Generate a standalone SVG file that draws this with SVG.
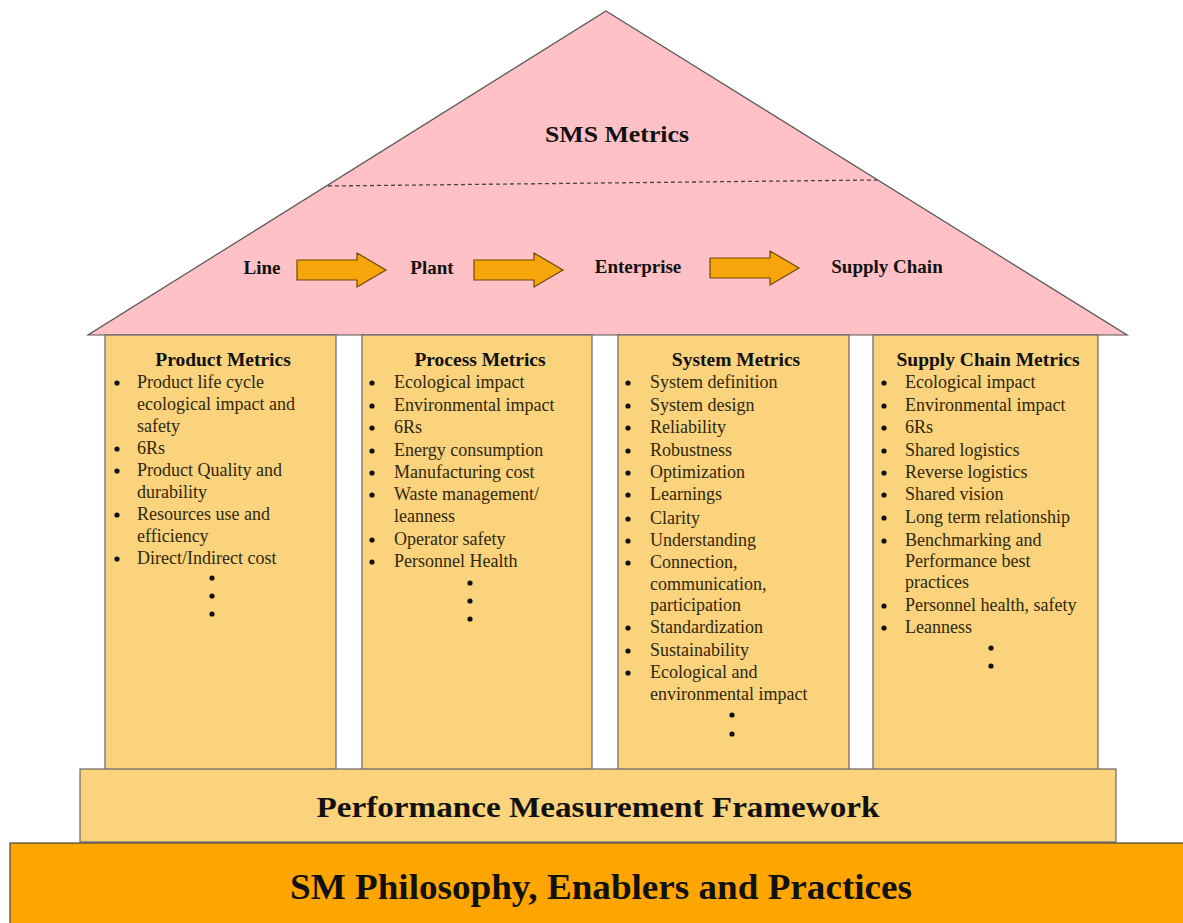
<svg xmlns="http://www.w3.org/2000/svg" width="1183" height="923" viewBox="0 0 1183 923">
  <defs>
    <style>
      .roof { fill: #FFC1C5; stroke: #555; stroke-width: 1.2; }
      .pillar { fill: #FAD37C; stroke: #666; stroke-width: 1.2; }
      .base { fill: #FFA500; stroke: #444; stroke-width: 1.2; }
      .flow { fill: #F6A50A; stroke: #6b4a00; stroke-width: 1.2; }
      .title { font-family: "Liberation Serif", "Times New Roman", serif; font-weight: bold; fill: #111; }
      .head { font-family: "Liberation Serif", "Times New Roman", serif; font-weight: bold; font-size: 19.5px; fill: #111; text-anchor: middle; }
      .item { font-family: "Liberation Serif", "Times New Roman", serif; font-size: 18px; fill: #30280f; }
      .dot { fill: #111; }
    </style>
    <path id="arrow" d="M0,7 H60 V0 L89,17 L60,34 V27 H0 Z"/>
  </defs>

  <!-- roof -->
  <g id="roof">
    <polygon class="roof" points="606,11 1127,335 88,335"/>
    <line x1="328" y1="186" x2="877" y2="180" stroke="#444" stroke-width="1.3" stroke-dasharray="4,3"/>
    <text class="title" x="617" y="142" font-size="24" text-anchor="middle" textLength="144" lengthAdjust="spacingAndGlyphs">SMS Metrics</text>
  </g>

  <g id="level-line"><text class="title" x="262" y="274" font-size="19" text-anchor="middle">Line</text></g>
  <g id="level-plant"><text class="title" x="432" y="274" font-size="19" text-anchor="middle">Plant</text></g>
  <g id="level-enterprise"><text class="title" x="638" y="273" font-size="19" text-anchor="middle">Enterprise</text></g>
  <g id="level-supply-chain"><text class="title" x="887" y="273" font-size="19" text-anchor="middle">Supply Chain</text></g>

  <!-- connectors between levels -->
  <g id="connectors">
    <use href="#arrow" class="flow" x="297" y="253"/>
    <use href="#arrow" class="flow" x="474" y="253"/>
    <use href="#arrow" class="flow" x="710" y="251"/>
  </g>

  <!-- pillar 1 -->
  <g id="product-metrics">
    <rect class="pillar" x="105" y="335" width="231" height="435"/>
    <text class="head" x="223" y="366">Product Metrics</text>
    <g class="item">
      <text x="137" y="388">Product life cycle</text>
      <text x="137" y="410">ecological impact and</text>
      <text x="137" y="432">safety</text>
      <text x="137" y="454">6Rs</text>
      <text x="137" y="476">Product Quality and</text>
      <text x="137" y="498">durability</text>
      <text x="137" y="520">Resources use and</text>
      <text x="137" y="542">efficiency</text>
      <text x="137" y="564">Direct/Indirect cost</text>
    </g>
    <g class="dot">
      <circle cx="117" cy="383" r="2.6"/><circle cx="117" cy="449" r="2.6"/><circle cx="117" cy="471" r="2.6"/>
      <circle cx="117" cy="515" r="2.6"/><circle cx="117" cy="559" r="2.6"/>
      <circle cx="212" cy="578" r="2.6"/><circle cx="212" cy="596" r="2.6"/><circle cx="212" cy="614" r="2.6"/>
    </g>
  </g>

  <!-- pillar 2 -->
  <g id="process-metrics">
    <rect class="pillar" x="362" y="335" width="230" height="435"/>
    <text class="head" x="480" y="366">Process Metrics</text>
    <g class="item">
      <text x="394" y="388">Ecological impact</text>
      <text x="394" y="411">Environmental impact</text>
      <text x="394" y="433">6Rs</text>
      <text x="394" y="456">Energy consumption</text>
      <text x="394" y="478">Manufacturing cost</text>
      <text x="394" y="500">Waste management/</text>
      <text x="394" y="522">leanness</text>
      <text x="394" y="545">Operator safety</text>
      <text x="394" y="567">Personnel Health</text>
    </g>
    <g class="dot">
      <circle cx="372" cy="383" r="2.6"/><circle cx="372" cy="406" r="2.6"/><circle cx="372" cy="428" r="2.6"/>
      <circle cx="372" cy="451" r="2.6"/><circle cx="372" cy="473" r="2.6"/><circle cx="372" cy="495" r="2.6"/>
      <circle cx="372" cy="540" r="2.6"/><circle cx="372" cy="562" r="2.6"/>
      <circle cx="470" cy="583" r="2.6"/><circle cx="470" cy="601" r="2.6"/><circle cx="470" cy="619" r="2.6"/>
    </g>
  </g>

  <!-- pillar 3 -->
  <g id="system-metrics">
    <rect class="pillar" x="618" y="335" width="231" height="436"/>
    <text class="head" x="736" y="366">System Metrics</text>
    <g class="item">
      <text x="650" y="388">System definition</text>
      <text x="650" y="411">System design</text>
      <text x="650" y="433">Reliability</text>
      <text x="650" y="456">Robustness</text>
      <text x="650" y="478">Optimization</text>
      <text x="650" y="500">Learnings</text>
      <text x="650" y="524">Clarity</text>
      <text x="650" y="546">Understanding</text>
      <text x="650" y="568">Connection,</text>
      <text x="650" y="590">communication,</text>
      <text x="650" y="611">participation</text>
      <text x="650" y="633">Standardization</text>
      <text x="650" y="656">Sustainability</text>
      <text x="650" y="678">Ecological and</text>
      <text x="650" y="700">environmental impact</text>
    </g>
    <g class="dot">
      <circle cx="628" cy="383" r="2.6"/><circle cx="628" cy="406" r="2.6"/><circle cx="628" cy="428" r="2.6"/>
      <circle cx="628" cy="451" r="2.6"/><circle cx="628" cy="473" r="2.6"/><circle cx="628" cy="495" r="2.6"/>
      <circle cx="628" cy="519" r="2.6"/><circle cx="628" cy="541" r="2.6"/><circle cx="628" cy="563" r="2.6"/>
      <circle cx="628" cy="628" r="2.6"/><circle cx="628" cy="651" r="2.6"/><circle cx="628" cy="673" r="2.6"/>
      <circle cx="732" cy="715" r="2.6"/><circle cx="732" cy="734" r="2.6"/>
    </g>
  </g>

  <!-- pillar 4 -->
  <g id="supply-chain-metrics">
    <rect class="pillar" x="873" y="335" width="225" height="435"/>
    <text class="head" x="988" y="366">Supply Chain Metrics</text>
    <g class="item">
      <text x="905" y="388">Ecological impact</text>
      <text x="905" y="411">Environmental impact</text>
      <text x="905" y="433">6Rs</text>
      <text x="905" y="456">Shared logistics</text>
      <text x="905" y="478">Reverse logistics</text>
      <text x="905" y="500">Shared vision</text>
      <text x="905" y="523">Long term relationship</text>
      <text x="905" y="546">Benchmarking and</text>
      <text x="905" y="567">Performance best</text>
      <text x="905" y="588">practices</text>
      <text x="905" y="611">Personnel health, safety</text>
      <text x="905" y="633">Leanness</text>
    </g>
    <g class="dot">
      <circle cx="884" cy="383" r="2.6"/><circle cx="884" cy="406" r="2.6"/><circle cx="884" cy="428" r="2.6"/>
      <circle cx="884" cy="451" r="2.6"/><circle cx="884" cy="473" r="2.6"/><circle cx="884" cy="495" r="2.6"/>
      <circle cx="884" cy="518" r="2.6"/><circle cx="884" cy="541" r="2.6"/><circle cx="884" cy="606" r="2.6"/>
      <circle cx="884" cy="628" r="2.6"/>
      <circle cx="991" cy="648" r="2.6"/><circle cx="991" cy="666" r="2.6"/>
    </g>
  </g>

  <!-- framework slab -->
  <g id="performance-framework">
    <rect class="pillar" x="80" y="769" width="1036" height="73"/>
    <text class="title" x="598" y="817" font-size="30" text-anchor="middle" textLength="563" lengthAdjust="spacingAndGlyphs">Performance Measurement Framework</text>
  </g>

  <!-- foundation -->
  <g id="sm-philosophy">
    <rect class="base" x="10" y="843" width="1180" height="90"/>
    <text class="title" x="601" y="899" font-size="35" text-anchor="middle" textLength="622" lengthAdjust="spacingAndGlyphs">SM Philosophy, Enablers and Practices</text>
  </g>
</svg>
